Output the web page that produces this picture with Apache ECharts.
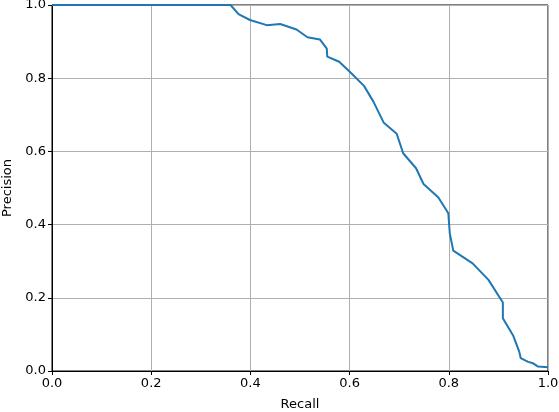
<!DOCTYPE html>
<html>
<head>
<meta charset="utf-8">
<script src="https://cdn.jsdelivr.net/npm/echarts@6/dist/echarts.min.js"></script>
<style>
  html, body { margin: 0; padding: 0; background: #fff; }
  #chart { width: 559px; height: 412px; }
</style>
</head>
<body>
<div id="chart"></div>
<script>
// recall / precision
var recall = [0, 0.360, 0.376, 0.399, 0.433, 0.460, 0.493, 0.515, 0.540, 0.554, 0.555,
  0.579, 0.604, 0.629, 0.648, 0.669, 0.695, 0.708, 0.734, 0.749, 0.779, 0.799,
  0.802, 0.809, 0.848, 0.880, 0.909, 0.909, 0.930, 0.942, 0.945, 0.960, 0.970,
  0.980, 1.0]
var precision = [1.0, 1.0, 0.975, 0.959, 0.945, 0.948, 0.933, 0.912, 0.906, 0.881, 0.859,
  0.845, 0.813, 0.779, 0.736, 0.678, 0.648, 0.595, 0.554, 0.511, 0.474, 0.431,
  0.376, 0.329, 0.294, 0.249, 0.187, 0.144, 0.096, 0.053, 0.035, 0.025, 0.021,
  0.012, 0.010]

var points = recall.map(function (r, i) { return [r, precision[i]] })

var font = 'DejaVu Sans'
var chart = echarts.init(document.getElementById('chart'))

function axis(name, gap) {
  return {
    type: 'value',
    min: 0,
    max: 1,
    interval: 0.2,
    name: name,
    nameLocation: 'middle',
    nameGap: gap,
    nameTextStyle: { color: '#000', fontFamily: font, fontSize: 13 },
    axisLine: { show: true, lineStyle: { color: '#000', width: 1 } },
    axisTick: { show: true, inside: false, length: 4, lineStyle: { color: '#000' } },
    axisLabel: {
      color: '#000', fontFamily: font, fontSize: 13, margin: 6,
      formatter: function (v) { return v.toFixed(1) }
    },
    splitLine: { show: true, lineStyle: { color: '#b0b0b0', width: 1 } }
  }
}

chart.setOption({
  animation: false,
  grid: {
    left: 52, right: 11, top: 5, bottom: 41,
    outerBoundsMode: 'none',
    show: true, borderColor: '#000', borderWidth: 1
  },
  xAxis: axis('Recall', 27),
  yAxis: axis('Precision', 37),
  series: [{
    type: 'line',
    data: points,
    showSymbol: false,
    lineStyle: { color: '#1f77b4', width: 2 }
  }]
})
</script>
</body>
</html>
